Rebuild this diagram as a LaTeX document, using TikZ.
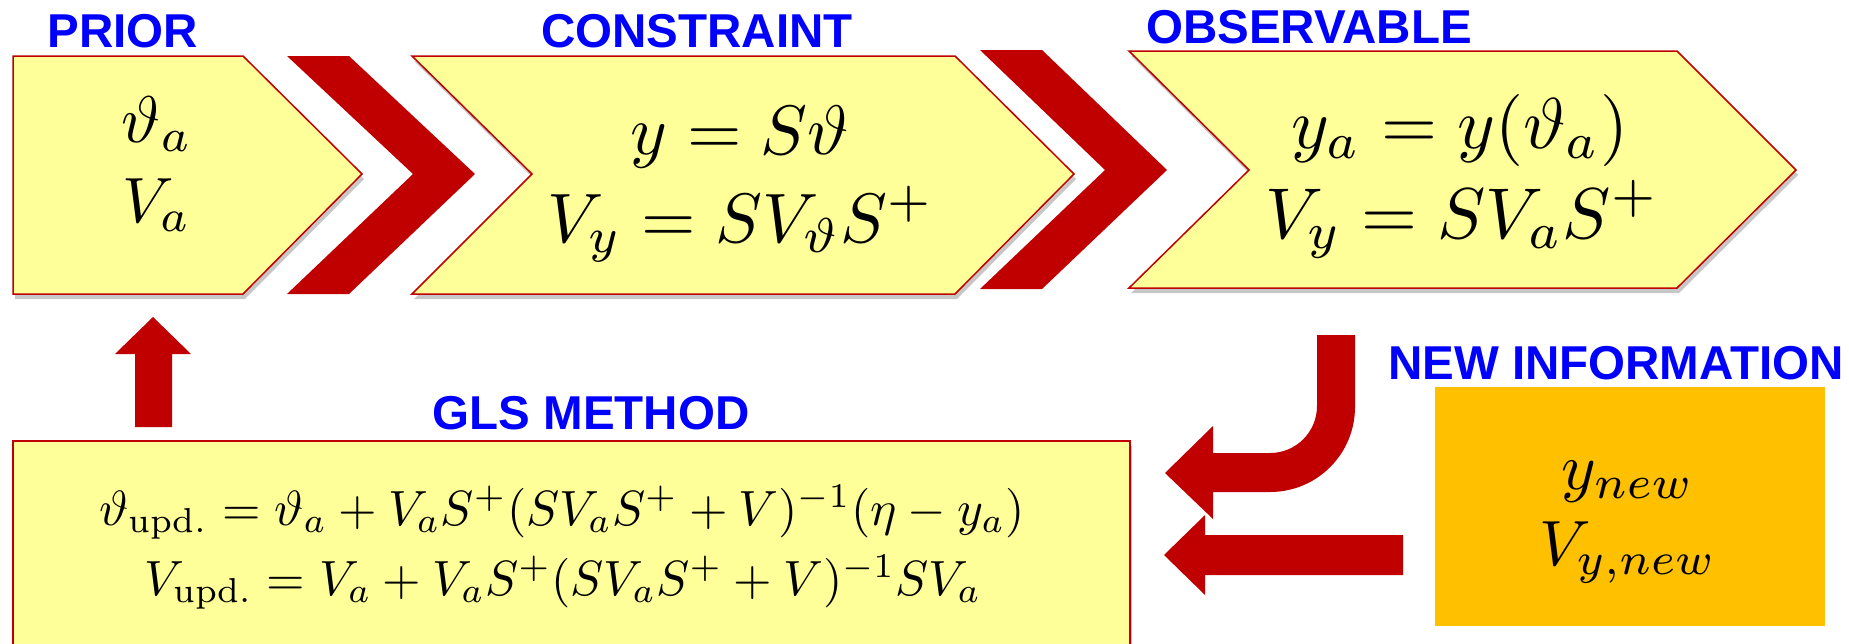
\documentclass[tikz,border=0pt]{standalone}
\usepackage{graphicx}
\usepackage{fontspec}
\newfontfamily\labfont{Liberation Sans}
\usetikzlibrary{shadows}
\definecolor{boxyellow}{HTML}{FFFF99}
\definecolor{darkred}{HTML}{C00000}
\definecolor{labelblue}{HTML}{0000FF}
\definecolor{infoorange}{HTML}{FFC000}
\newcommand{\mathsized}[2]{\scalebox{#1}{$#2$}}
\tikzset{
  stage/.style={fill=boxyellow, draw=darkred, line width=1.5pt, line join=miter,
    drop shadow={shadow xshift=2pt, shadow yshift=-5pt, opacity=0.22, fill=black}},
  chevronshape/.style={fill=darkred, draw=none},
  blockarrow/.style={fill=darkred, draw=none},
  heading/.style={text=labelblue, font={\labfont\bfseries\fontsize{47.5}{50}\selectfont}, anchor=base, inner sep=0pt},
  mathline/.style={anchor=base, inner sep=0pt, text=black},
}
\begin{document}
\begin{tikzpicture}[x=1pt,y=-1pt]
\useasboundingbox (0,0) rectangle (1849,643);

% ---------- stages ----------
\path[stage] (13,56) -- (243,56) -- (362,174) -- (243,294) -- (13,294) -- cycle;
\path[chevronshape] (287,56) -- (349,56) -- (475,174) -- (349,294) -- (287,294) -- (413,174) -- cycle;
\path[stage] (412,56) -- (955,56) -- (1074,174) -- (955,294) -- (412,294) -- (532,174) -- cycle;
\path[chevronshape] (980,50) -- (1042,50) -- (1167,170) -- (1042,289) -- (980,289) -- (1105,170) -- cycle;
\path[stage] (1129,51) -- (1677,51) -- (1796,170) -- (1677,288) -- (1129,288) -- (1249,170) -- cycle;

% ---------- GLS box ----------
\path[stage] (13,441) rectangle (1130,700);

% ---------- new information box ----------
\path[fill=infoorange] (1435,387) rectangle (1825,626);

% ---------- block arrows ----------
\path[blockarrow] (153,317) -- (191,354) -- (172,354) -- (172,427) -- (135,427) -- (135,354) -- (115,354) -- cycle;
\path[blockarrow] (1317,335) -- (1355,335) -- (1355,407)
  .. controls (1355,454) and (1317,492) .. (1270,492)
  -- (1213,492) -- (1213,519) -- (1165,473) -- (1213,426) -- (1213,453) -- (1270,453)
  .. controls (1296,453) and (1317,432) .. (1317,406) -- cycle;
\path[blockarrow] (1403,535) -- (1403,575) -- (1205,575) -- (1205,595) -- (1164,555) -- (1205,515) -- (1205,535) -- cycle;

% ---------- headings ----------
\node[heading] (hprior) at (123,47) {PRIOR};
\node[heading] (hconstraint) at (697,47) {CONSTRAINT};
\node[heading] (hobservable) at (1309,43) {OBSERVABLE};
\node[heading] (hgls) at (591,429) {GLS METHOD};
\node[heading] (hnew) at (1616,379) {NEW INFORMATION};

% ---------- formulas ----------
\node[mathline] (priorA) at (157,142) {\mathsized{6.6}{\vartheta_a}};
\node[mathline] (priorB) at (157,222) {\mathsized{6.4}{V_a}};

\node[mathline] (conA) at (740,154) {\mathsized{7.0}{y = S\vartheta}};
\node[mathline] (conB) at (741,242) {\mathsized{7.0}{V_y = SV_\vartheta S^+}};

\node[mathline] (obsA) at (1460,148) {\mathsized{7.2}{y_a = y(\vartheta_a)}};
\node[mathline] (obsB) at (1462,238) {\mathsized{7.2}{V_y = SV_aS^+}};

\node[mathline] (glsA) at (562,525) {\mathsized{4.95}{\vartheta_{\mathrm{upd.}} = \vartheta_a + V_aS^+(SV_aS^+ + V)^{-1}(\eta - y_a)}};
\node[mathline] (glsB) at (563,595) {\mathsized{4.95}{V_{\mathrm{upd.}} = V_a + V_aS^+(SV_aS^+ + V)^{-1}SV_a}};

\node[mathline] (newA) at (1628,489) {\mathsized{6.6}{y_{new}}};
\node[mathline] (newB) at (1628,565) {\mathsized{6.4}{V_{y,new}}};
\end{tikzpicture}
\end{document}
